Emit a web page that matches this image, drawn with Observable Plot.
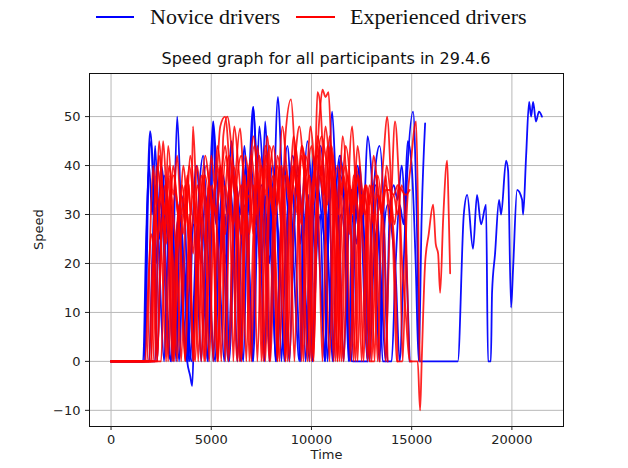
<!DOCTYPE html>
<html>
<head>
<meta charset="utf-8">
<script src="https://cdn.jsdelivr.net/npm/d3@7"></script>
<script src="https://cdn.jsdelivr.net/npm/@observablehq/plot@0.6"></script>
<style>
  body { margin: 0; background: #fff; }
  #wrap { position: relative; width: 628px; height: 468px; overflow: hidden; }
  #wrap svg { position: absolute; left: 0; top: 0; }
  .lg { position: absolute; font-family: "Liberation Serif", serif; font-size: 22px; color: #111; line-height: 1; white-space: nowrap; }
  .sw { position: absolute; height: 0; border-top: 2px solid; }
  #title { position: absolute; left: 0; width: 652px; text-align: center; top: 49px; font-family: "DejaVu Sans", sans-serif; font-size: 16px; color: #111; white-space: nowrap; }
</style>
</head>
<body>
<div id="wrap">
  <div class="sw" style="left:96px; width:38px; top:16px; border-color:#0000ff"></div>
  <div class="lg" id="lgN" style="left:150px; top:6px"></div>
  <div class="sw" style="left:296px; width:39px; top:16px; border-color:#ff0000"></div>
  <div class="lg" id="lgE" style="left:350px; top:6px"></div>
  <div id="title"></div>
</div>
<script>
const titleText = "Speed graph for all participants in 29.4.6";
const seriesNames = ["Novice drivers", "Experienced drivers"];
const xLabel = "Time";
const yLabel = "Speed";
const xTicks = [0, 5000, 10000, 15000, 20000];
const yTicks = [-10, 0, 10, 20, 30, 40, 50];

// Novice drivers (blue), [time, speed]
const novice1 = [[0,0],[1650,0],[1800,30],[1950,47],[2100,38],[2250,20],[2400,33],[2600,26],[2800,5],[3000,0],[3150,28],[3300,50],[3450,35],[3600,12],[3800,0],[3950,-3],[4050,-5],[4150,8],[4350,22],[4600,30],[4800,0],[5000,28],[5100,49],[5300,36],[5500,22],[5700,30],[5900,0],[6100,20],[6300,33],[6500,25],[6700,40],[6900,30],[7100,52],[7300,35],[7500,18],[7700,34],[7900,0],[8100,28],[8330,54],[8500,40],[8700,22],[8900,0],[9100,25],[9300,38],[9500,30],[9700,0],[9900,20],[10100,42],[10300,30],[10500,12],[10700,0],[10850,30],[11030,51],[11200,38],[11400,25],[11600,0],[11800,22],[12000,35],[12200,28],[12400,40],[12600,30],[12800,46],[13000,38],[13200,20],[13400,0],[13600,25],[13800,32],[14000,27],[14200,18],[14400,0],[14600,20],[14800,40],[15070,51],[15250,30],[15400,0],[17300,0],[17600,30],[17770,34],[18060,23],[18260,34],[18460,28],[18710,32],[18810,0],[18950,0],[19010,14],[19160,22],[19360,33],[19460,30],[19710,41],[19810,39],[19960,11],[20060,19],[20260,35],[20510,33],[20560,30],[20710,42],[20860,53],[20960,50],[21060,53],[21200,49],[21350,51],[21500,50]];
const novice2 = [[0,0],[1600,0],[1750,25],[1900,40],[2050,30],[2200,44],[2350,28],[2500,10],[2650,0],[2800,18],[3000,32],[3200,15],[3400,0],[3600,22],[3800,10],[4000,0],[4200,15],[4400,35],[4600,42],[4800,25],[5000,8],[5200,0],[5400,26],[5600,38],[5800,30],[6000,45],[6200,32],[6400,14],[6600,0],[6800,30],[7000,40],[7200,28],[7400,48],[7600,36],[7800,20],[8000,33],[8200,0],[8400,18],[8600,36],[8800,44],[9000,30],[9200,12],[9400,0],[9600,32],[9800,45],[10000,35],[10200,22],[10400,38],[10600,28],[10800,0],[11000,20],[11200,33],[11400,42],[11600,36],[11800,16],[12000,0],[12200,30],[12400,36],[12600,28],[12800,0],[13000,25],[13200,40],[13400,44],[13600,32],[13800,0],[14000,0],[14200,20],[14400,32],[14600,28],[14800,45],[15000,40],[15200,20],[15350,0],[15500,30],[15670,48.6]];
const novice3 = [[0,0],[1700,0],[1850,35],[2000,45],[2150,28],[2300,0],[2450,20],[2650,38],[2850,30],[3050,22],[3250,0],[3450,30],[3650,18],[3850,0],[4050,25],[4250,40],[4450,30],[4650,12],[4850,0],[5050,35],[5250,28],[5450,40],[5650,20],[5850,0],[6050,22],[6250,36],[6450,30],[6650,44],[6850,25],[7050,0],[7250,30],[7450,20],[7690,49],[7850,35],[8050,15],[8250,0],[8450,25],[8650,40],[8850,30],[9050,35],[9250,18],[9450,0],[9650,28],[9850,34],[10050,0],[10250,30],[10450,44],[10650,36],[10850,20],[11050,0],[11250,22],[11450,38],[11650,30],[11850,8],[12050,0],[12800,0]];
const novice4 = [[0,0],[1900,0],[2050,20],[2200,36],[2400,25],[2600,33],[2800,12],[3000,0],[3200,22],[3400,30],[3600,8],[3750,0],[3900,15],[4100,28],[4300,18],[4500,0],[4700,22],[4900,32],[5090,49],[5250,30],[5450,15],[5650,0],[5850,28],[6050,38],[6250,26],[6450,0],[6650,24],[6850,34],[7090,52],[7250,40],[7450,28],[7650,0],[7850,26],[8050,40],[8250,32],[8450,18],[8650,0],[8850,30],[9050,42],[9250,36],[9450,24],[9650,38],[9850,28],[10050,0],[10250,22],[10450,30],[10650,0],[10850,26],[11050,38],[11250,30],[11450,42],[11650,28],[11850,0],[12050,30],[12250,24],[12450,32],[12650,10],[12800,0],[13000,28],[13200,36],[13400,20],[13550,0],[13800,0]];
const novice5 = [[0,0],[2200,0],[2350,28],[2500,40],[2700,32],[2900,18],[3100,0],[3300,26],[3500,34],[3700,28],[3900,0],[4100,10],[4300,28],[4500,20],[4700,34],[4900,25],[5100,0],[5300,22],[5500,30],[5700,20],[5900,36],[6100,28],[6300,0],[6500,25],[6700,32],[6900,18],[7100,0],[7300,28],[7500,36],[7700,30],[7900,20],[8100,38],[8300,26],[8500,0],[8700,22],[8900,34],[9100,26],[9300,40],[9500,30],[9700,14],[9900,0],[10100,28],[10300,36],[10500,30],[10700,24],[10900,32],[11100,0],[11300,26],[11500,30],[11700,22],[11900,0],[12100,25],[12300,40],[12500,32],[12700,20],[12900,0],[13100,20],[13300,28],[13500,14],[13700,0],[13900,30],[14100,36],[14300,33],[14500,40],[14700,25],[14900,0]];

// Experienced drivers (red), [time, speed]
const expert1 = [[0,0],[1800,0],[1950,25],[2100,40],[2250,32],[2400,45],[2550,36],[2700,20],[2850,0],[3000,22],[3200,35],[3400,28],[3600,40],[3800,30],[4000,12],[4200,0],[4400,25],[4600,38],[4800,30],[5000,42],[5200,35],[5450,48],[5690,50],[5900,40],[6100,22],[6300,0],[6500,30],[6700,42],[6900,36],[7100,28],[7300,44],[7500,34],[7700,20],[7900,0],[8100,32],[8300,40],[8500,30],[8700,46],[8980,53.5],[9200,40],[9400,28],[9600,0],[9800,35],[10000,44],[10200,38],[10400,50],[10550,55.5],[10700,54],[10850,55],[11000,42],[11200,30],[11400,20],[11600,0],[11800,30],[12030,48],[12200,36],[12400,25],[12600,0],[12800,28],[13000,36],[13200,30],[13400,0]];
const expert2 = [[0,0],[1900,0],[2050,18],[2200,30],[2350,25],[2500,38],[2600,45],[2750,35],[2900,22],[3050,0],[3200,20],[3400,32],[3600,26],[3800,38],[4000,30],[4090,48],[4250,34],[4450,20],[4650,0],[4850,26],[5050,36],[5250,30],[5450,40],[5650,25],[5850,0],[6050,22],[6250,40],[6440,47.6],[6600,38],[6800,26],[7000,0],[7200,32],[7400,42],[7600,36],[7800,46],[8000,34],[8200,22],[8400,0],[8600,28],[8800,38],[9000,32],[9200,44],[9400,36],[9600,24],[9800,0],[10000,30],[10200,42],[10300,55],[10450,52],[10600,40],[10800,32],[11000,44],[11200,34],[11400,0],[11600,26],[11800,38],[12000,30],[12200,40],[12400,34],[12600,22],[12800,0],[13000,30],[13200,38],[13400,32],[13600,42],[13770,50],[13950,38],[14100,20],[14250,0],[14500,0]];
const expert3 = [[0,0],[2000,0],[2150,22],[2300,34],[2450,28],[2600,15],[2750,0],[2900,26],[3100,38],[3300,32],[3500,20],[3700,0],[3900,24],[4100,34],[4300,28],[4500,38],[4700,30],[4900,0],[5100,28],[5300,40],[5500,34],[5700,26],[5900,36],[6100,0],[6300,30],[6500,36],[6700,28],[6900,40],[7100,32],[7300,0],[7500,30],[7700,44],[7900,38],[8100,30],[8300,42],[8500,34],[8700,0],[8900,26],[9100,36],[9300,30],[9500,42],[9700,36],[9900,28],[10100,0],[10300,32],[10500,40],[10700,34],[10900,46],[11100,36],[11300,24],[11500,0],[11700,30],[11900,36],[12100,32],[12300,44],[12500,36],[12700,28],[12900,0],[13100,26],[13300,34],[13500,30],[13700,38],[13900,28],[14170,49],[14350,38],[14500,22],[14700,10],[14900,0],[15300,0],[15420,-10],[15500,0],[15670,20],[15850,26],[16070,32],[16200,24],[16320,22],[16420,14],[16570,29],[16770,41],[16850,30],[16920,18]];
const expert4 = [[0,0],[2100,0],[2250,28],[2400,42],[2550,36],[2700,30],[2850,44],[3000,34],[3150,0],[3350,24],[3550,36],[3750,30],[3950,42],[4150,32],[4350,0],[4550,30],[4750,40],[4950,34],[5150,24],[5350,0],[5550,32],[5750,42],[5950,36],[6150,48],[6350,40],[6550,28],[6750,0],[6950,34],[7150,44],[7350,38],[7550,30],[7750,40],[7950,0],[8150,24],[8350,36],[8550,48],[8750,40],[8950,30],[9150,0],[9350,32],[9550,44],[9750,38],[9950,48],[10150,40],[10350,30],[10550,0],[10750,36],[10950,44],[11150,38],[11350,30],[11550,46],[11750,36],[11950,0],[12150,32],[12350,38],[12550,30],[12750,36],[12950,26],[13150,0],[13350,34],[13550,30],[13750,40],[13950,34],[14150,28],[14350,36],[14550,0],[14750,30],[14950,40],[15220,49],[15320,30],[15400,0]];
const expert5 = [[0,0],[2300,0],[2450,20],[2600,30],[2750,24],[2950,35],[3150,28],[3350,14],[3500,0],[3700,28],[3900,40],[4100,34],[4300,26],[4500,0],[4700,24],[4900,36],[5100,30],[5300,44],[5500,36],[5700,0],[5900,30],[6100,38],[6300,32],[6500,26],[6700,38],[6900,0],[7100,26],[7300,36],[7500,30],[7700,42],[7900,36],[8100,28],[8300,0],[8500,32],[8700,40],[8900,34],[9100,46],[9300,38],[9500,0],[9700,28],[9900,38],[10100,32],[10300,46],[10500,40],[10700,28],[10900,0],[11100,30],[11300,40],[11500,34],[11700,44],[11900,38],[12100,0],[12300,26],[12500,34],[12700,30],[12900,36],[13100,28],[13300,0],[13500,30],[13700,36],[13900,32],[14100,26],[14300,0]];
const expert6 = [[0,0],[1700,0],[1850,15],[2000,26],[2150,20],[2300,0],[2500,24],[2700,36],[2900,30],[3100,40],[3300,32],[3500,22],[3700,0],[3900,30],[4100,22],[4300,36],[4500,28],[4700,0],[4900,20],[5100,32],[5300,26],[5500,0],[5700,34],[5900,42],[6100,36],[6300,30],[6500,0],[6700,28],[6900,34],[7100,26],[7300,38],[7500,0],[7700,30],[7900,38],[8100,44],[8300,36],[8500,26],[8700,0],[8900,34],[9100,40],[9300,34],[9500,28],[9700,38],[9900,0],[10100,34],[10300,44],[10500,38],[10700,48],[10900,40],[11100,30],[11300,0],[11500,28],[11700,34],[11900,26],[12100,38],[12300,30],[12500,0],[12700,24],[12900,34],[13100,28],[13300,38],[13500,30],[13700,0],[13900,26],[14100,34],[14300,30],[14500,36],[14700,28],[14900,0],[15000,0]];
const expert7 = [[0,0],[2500,0],[2650,22],[2800,34],[2950,28],[3100,20],[3300,0],[3500,26],[3700,32],[3900,24],[4100,0],[4300,22],[4500,34],[4700,42],[4900,36],[5100,26],[5300,0],[5500,28],[5600,46],[5800,50],[6000,44],[6200,32],[6400,0],[6600,26],[6800,36],[7000,42],[7200,34],[7400,22],[7600,0],[7800,28],[8000,36],[8200,30],[8400,40],[8600,34],[8800,0],[9000,30],[9200,42],[9400,48],[9600,40],[9800,30],[10000,0],[10200,28],[10400,40],[10600,34],[10800,44],[11000,36],[11200,0],[11400,30],[11600,38],[11800,32],[12000,24],[12200,0],[12400,28],[12600,34],[12800,30],[13000,0],[13200,22],[13400,32],[13600,28],[13800,0]];
const expert8 = [[0,0],[2000,0],[2150,30],[2300,40],[2500,34],[2700,26],[2900,38],[3100,0],[3300,24],[3500,34],[3700,28],[3900,36],[4100,0],[4300,26],[4500,32],[4700,24],[4900,36],[5100,30],[5300,0],[5500,26],[5700,36],[5900,30],[6100,40],[6300,34],[6500,0],[6700,30],[6900,38],[7100,46],[7300,38],[7500,28],[7700,0],[7900,32],[8100,38],[8300,32],[8500,40],[8700,30],[8900,0],[9100,26],[9300,36],[9500,30],[9700,42],[9900,36],[10100,0],[10300,38],[10500,46],[10700,42],[10900,36],[11100,0],[11300,32],[11500,40],[11700,34],[11900,28],[12100,36],[12300,0],[12500,30],[12700,36],[12900,32],[13100,42],[13300,36],[13500,30],[13700,35],[13900,35],[14100,34],[14300,36],[14500,35],[14700,34],[14900,35]];
const expert9 = [[0,0],[2200,0],[2350,26],[2500,36],[2700,30],[2900,40],[3100,34],[3300,42],[3500,30],[3700,36],[3900,24],[4100,30],[4300,40],[4500,32],[4700,38],[4900,28],[5100,0],[5300,30],[5500,38],[5700,44],[5900,34],[6100,28],[6300,38],[6500,42],[6700,34],[6900,26],[7100,36],[7300,30],[7500,40],[7700,34],[7900,44],[8100,38],[8300,0],[8500,30],[8700,38],[8900,32],[9100,40],[9300,34],[9500,44],[9700,40],[9900,30],[10100,38],[10300,42],[10500,36],[10700,30],[10900,40],[11100,34],[11300,0],[11500,32],[11700,40],[11900,34],[12100,30],[12300,38],[12500,32],[12700,36],[12900,0],[13100,0]];

const noviceSeries = [novice1, novice2, novice3, novice4, novice5];
const expertSeries = [expert1, expert2, expert3, expert4, expert5, expert6, expert7, expert8, expert9];

const noviceRows = noviceSeries.flatMap((s, i) => s.map(([t, v]) => ({t, v, id: "n" + i})));
const expertRows = expertSeries.flatMap((s, i) => s.map(([t, v]) => ({t, v, id: "e" + i})));

document.getElementById("lgN").textContent = seriesNames[0];
document.getElementById("lgE").textContent = seriesNames[1];
document.getElementById("title").textContent = titleText;

const chart = Plot.plot({
  width: 628,
  height: 468,
  marginLeft: 89,
  marginRight: 65,
  marginTop: 73,
  marginBottom: 42,
  style: {fontFamily: "DejaVu Sans, sans-serif", fontSize: "13px", color: "#222", background: "transparent"},
  x: {domain: [-1075, 22575]},
  y: {domain: [-13.3, 58.8]},
  marks: [
    Plot.gridX(xTicks, {stroke: "#b8b8b8", strokeOpacity: 1, strokeWidth: 1}),
    Plot.gridY(yTicks, {stroke: "#b8b8b8", strokeOpacity: 1, strokeWidth: 1}),
    Plot.line(noviceRows, {x: "t", y: "v", z: "id", curve: "monotone-x", stroke: "#0000ff", strokeWidth: 1.8, strokeOpacity: 0.95}),
    Plot.line(expertRows, {x: "t", y: "v", z: "id", curve: "monotone-x", stroke: "#ff0000", strokeWidth: 1.8, strokeOpacity: 0.85}),
    Plot.frame({stroke: "#111", strokeWidth: 1}),
    Plot.axisX(xTicks, {tickSize: 4, tickPadding: 4, fontSize: 13, label: null, tickFormat: d => String(d)}),
    Plot.axisY(yTicks, {tickSize: 4, tickPadding: 5, fontSize: 13, label: null, tickFormat: d => d < 0 ? "\u2212" + Math.abs(d) : String(d)}),
    Plot.text([xLabel], {frameAnchor: "bottom", dy: 32, fontSize: 13, fill: "#222"}),
    Plot.text([yLabel], {frameAnchor: "left", dx: -51, rotate: -90, fontSize: 13, fill: "#222"})
  ]
});
document.getElementById("wrap").prepend(chart);
</script>
</body>
</html>
